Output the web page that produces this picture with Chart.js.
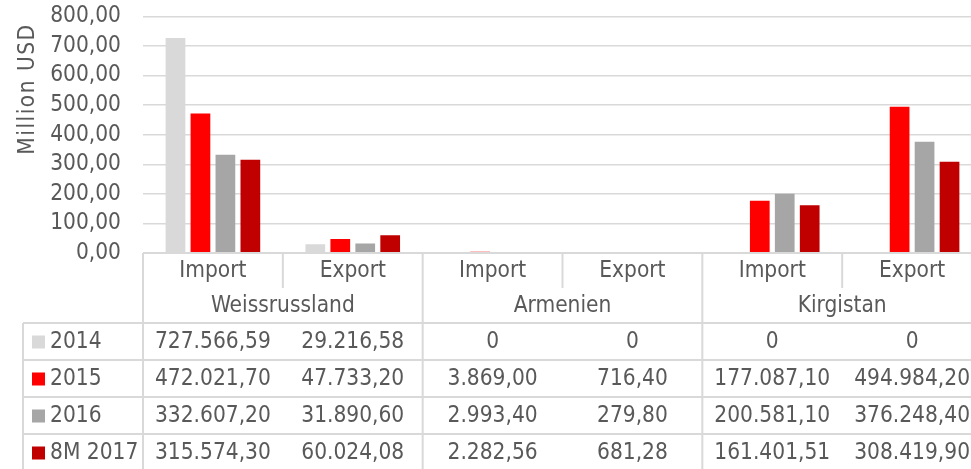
<!DOCTYPE html>
<html>
<head>
<meta charset="utf-8">
<script src="https://cdn.jsdelivr.net/npm/chart.js@4.4.0/dist/chart.umd.min.js"></script>
<style>
  html, body { margin: 0; padding: 0; background: #fff; overflow: hidden; }
  #wrap { width: 971px; height: 469px; overflow: hidden; }
</style>
</head>
<body>
<div id="wrap"><canvas id="chart" width="982" height="469"></canvas></div>
<script>
// Trade chart with data table underneath (values in thousand USD, bars in million USD)
const categories = ['Import', 'Export', 'Import', 'Export', 'Import', 'Export'];
const countries = ['Weissrussland', 'Armenien', 'Kirgistan'];
const seriesNames = ['2014', '2015', '2016', '8M 2017'];
const v2014 = [727566.59, 29216.58, 0, 0, 0, 0];
const v2015 = [472021.70, 47733.20, 3869.00, 716.40, 177087.10, 494984.20];
const v2016 = [332607.20, 31890.60, 2993.40, 279.80, 200581.10, 376248.40];
const v2017 = [315574.30, 60024.08, 2282.56, 681.28, 161401.51, 308419.90];
const yTicks = [0, 100, 200, 300, 400, 500, 600, 700, 800];

const colors = ['#D9D9D9', '#FF0000', '#A6A6A6', '#C00000'];
const allSeries = [v2014, v2015, v2016, v2017];
const TEXT = '#595959';
const LINE = '#D9D9D9';
const FAMILY = '"DejaVu Sans Condensed", "DejaVu Sans", sans-serif';
const SIZE = 22.5;
const FONT = SIZE + 'px ' + FAMILY;

// 727566.59 -> "727.566,59", 0 -> "0"
function fmt(v) {
  if (v === 0) return '0';
  const parts = v.toFixed(2).split('.');
  const int = parts[0].replace(/\B(?=(\d{3})+(?!\d))/g, '.');
  return int + ',' + parts[1];
}

const tablePlugin = {
  id: 'dataTable',
  afterDraw(chart) {
    const ctx = chart.ctx;
    const ca = chart.chartArea;
    const colW = (ca.right - ca.left) / categories.length;
    const top = ca.bottom;
    const catH = 35, ctryH = 35, rowH = 37;
    const tableTop = top + catH + ctryH;
    const legendLeft = 23;
    const bottom = tableTop + rowH * seriesNames.length;

    ctx.save();
    ctx.strokeStyle = LINE;
    ctx.lineWidth = 2;
    ctx.beginPath();
    // baseline
    ctx.moveTo(ca.left, top); ctx.lineTo(ca.right, top);
    // column dividers
    for (let i = 0; i <= categories.length; i++) {
      const x = ca.left + i * colW;
      ctx.moveTo(x, top);
      ctx.lineTo(x, i % 2 === 0 ? bottom : top + catH);
    }
    // table rows
    for (let r = 0; r <= seriesNames.length; r++) {
      const y = tableTop + r * rowH;
      ctx.moveTo(legendLeft, y); ctx.lineTo(ca.right, y);
    }
    ctx.moveTo(legendLeft, tableTop); ctx.lineTo(legendLeft, bottom);
    ctx.stroke();

    ctx.fillStyle = TEXT;
    ctx.font = FONT;
    ctx.textAlign = 'center';
    ctx.textBaseline = 'middle';
    categories.forEach((c, i) => {
      ctx.fillText(c, ca.left + (i + 0.5) * colW, top + catH / 2 + 1);
    });
    countries.forEach((c, i) => {
      ctx.fillText(c, ca.left + (i * 2 + 1) * colW, top + catH + ctryH / 2 + 1);
    });
    seriesNames.forEach((name, r) => {
      const cy = tableTop + (r + 0.5) * rowH + 1;
      ctx.fillStyle = colors[r];
      ctx.fillRect(32, cy - 7, 13, 13);
      ctx.fillStyle = TEXT;
      ctx.textAlign = 'left';
      ctx.fillText(name, 50, cy);
      ctx.textAlign = 'center';
      allSeries[r].forEach((v, i) => {
        ctx.fillText(fmt(v), ca.left + (i + 0.5) * colW, cy);
      });
    });

    // y axis title
    ctx.translate(28, 89);
    ctx.rotate(-Math.PI / 2);
    ctx.letterSpacing = '1.5px';
    ctx.fillText('Million USD', 0, 0);
    ctx.restore();
  }
};

new Chart(document.getElementById('chart'), {
  type: 'bar',
  data: {
    labels: categories,
    datasets: allSeries.map((s, i) => ({
      label: seriesNames[i],
      data: s.map(v => v / 1000),
      backgroundColor: colors[i],
      borderWidth: 0,
      categoryPercentage: 0.714,
      barPercentage: 0.79
    }))
  },
  options: {
    responsive: false,
    animation: false,
    layout: { padding: { top: 0, bottom: 216, left: 0, right: 0 } },
    plugins: { legend: { display: false }, tooltip: { enabled: false } },
    scales: {
      x: { display: false },
      y: {
        min: 0,
        max: 800,
        afterFit(scale) { scale.width = 143; },
        afterBuildTicks(scale) { scale.ticks = yTicks.map(v => ({ value: v })); },
        ticks: {
          padding: 3,
          color: TEXT,
          font: { family: FAMILY, size: SIZE },
          callback: v => v.toFixed(2).replace('.', ',')
        },
        grid: { color: LINE, lineWidth: 1.5, drawTicks: true, tickLength: 19, tickColor: 'rgba(0,0,0,0)' },
        border: { display: false }
      }
    }
  },
  plugins: [tablePlugin]
});
</script>
</body>
</html>
